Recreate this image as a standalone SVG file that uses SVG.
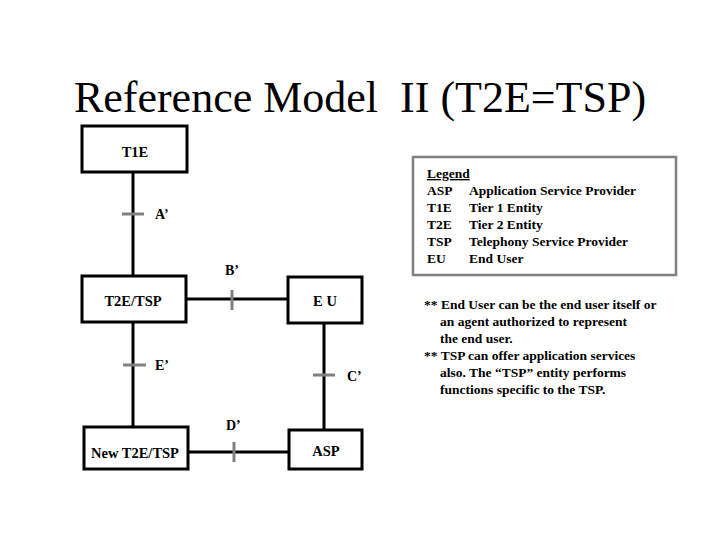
<svg xmlns="http://www.w3.org/2000/svg" width="720" height="540" viewBox="0 0 720 540">
<style>
.box{fill:#fff;stroke:#000;stroke-width:3}
.lbl{font-size:14.5px;font-weight:bold;fill:#000;text-anchor:middle}
.conn{stroke:#000;stroke-width:3;fill:none}
.tick{stroke:#808080;stroke-width:3}
.ifl{font-size:14px;font-weight:bold;fill:#000}
.txt{font-size:13.5px;font-weight:bold;fill:#000}
text{font-family:'Liberation Serif',serif}
</style>
<rect width="720" height="540" fill="#fff"/>
<text x="360" y="112" text-anchor="middle" font-family="'Liberation Serif','Times New Roman',serif" font-size="44" style="white-space:pre">Reference Model  II (T2E=TSP)</text>

<g id="connectors" font-family="'Liberation Serif',serif">
  <line class="conn" x1="133" y1="172" x2="133" y2="275"/>
  <line class="conn" x1="186" y1="299" x2="232" y2="299" stroke-width="4"/>
  <line class="conn" x1="232" y1="299" x2="288" y2="299"/>
  <line class="conn" x1="133" y1="322" x2="133" y2="427"/>
  <line class="conn" x1="324" y1="322" x2="324" y2="395" stroke-width="4"/>
  <line class="conn" x1="324" y1="395" x2="324" y2="430"/>
  <line class="conn" x1="188" y1="452" x2="234" y2="452"/>
  <line class="conn" x1="234" y1="452" x2="289" y2="452" stroke-width="4"/>
  <line class="tick" x1="122" y1="214" x2="144" y2="214"/>
  <line class="tick" x1="232" y1="290" x2="232" y2="310"/>
  <line class="tick" x1="123" y1="365" x2="146" y2="365"/>
  <line class="tick" x1="313" y1="375" x2="335" y2="375"/>
  <line class="tick" x1="234" y1="442" x2="234" y2="462"/>
  <text class="ifl" x="155" y="219">A’</text>
  <text class="ifl" x="225" y="275">B’</text>
  <text class="ifl" x="155" y="370">E’</text>
  <text class="ifl" x="347" y="381">C’</text>
  <text class="ifl" x="226" y="430">D’</text>
</g>

<g id="t1e" font-family="'Liberation Serif',serif">
  <rect class="box" x="82" y="126" width="105" height="46"/>
  <text class="lbl" x="135" y="157">T1E</text>
</g>
<g id="t2e-tsp" font-family="'Liberation Serif',serif">
  <rect class="box" x="82" y="276" width="104" height="46"/>
  <text class="lbl" x="133" y="306">T2E/TSP</text>
</g>
<g id="eu" font-family="'Liberation Serif',serif">
  <rect class="box" x="288" y="277" width="74" height="46"/>
  <text class="lbl" x="325" y="306" style="white-space:pre">E U</text>
</g>
<g id="new-t2e-tsp" font-family="'Liberation Serif',serif">
  <rect class="box" x="84" y="427" width="104" height="42"/>
  <text class="lbl" x="135" y="458">New T2E/TSP</text>
</g>
<g id="asp" font-family="'Liberation Serif',serif">
  <rect class="box" x="289" y="430" width="73" height="39"/>
  <text class="lbl" x="326" y="456">ASP</text>
</g>

<g id="legend" font-family="'Liberation Serif',serif">
  <rect x="413" y="157" width="263" height="118" fill="#fff" stroke="#808080" stroke-width="2.5"/>
  <text class="txt" x="427" y="178" text-decoration="underline">Legend</text>
  <text class="txt" x="427" y="195">ASP</text><text class="txt" x="469" y="195">Application Service Provider</text>
  <text class="txt" x="427" y="212">T1E</text><text class="txt" x="469" y="212">Tier 1 Entity</text>
  <text class="txt" x="427" y="229">T2E</text><text class="txt" x="469" y="229">Tier 2 Entity</text>
  <text class="txt" x="427" y="246">TSP</text><text class="txt" x="469" y="246">Telephony Service Provider</text>
  <text class="txt" x="427" y="263">EU</text><text class="txt" x="469" y="263">End User</text>
</g>

<g id="notes" font-family="'Liberation Serif',serif">
  <text class="txt" x="424" y="309">** End User can be the end user itself or</text>
  <text class="txt" x="440" y="326">an agent authorized to represent</text>
  <text class="txt" x="440" y="343">the end user.</text>
  <text class="txt" x="424" y="360">** TSP can offer application services</text>
  <text class="txt" x="440" y="377">also.  The “TSP” entity performs</text>
  <text class="txt" x="440" y="394">functions specific to the TSP.</text>
</g>
</svg>
